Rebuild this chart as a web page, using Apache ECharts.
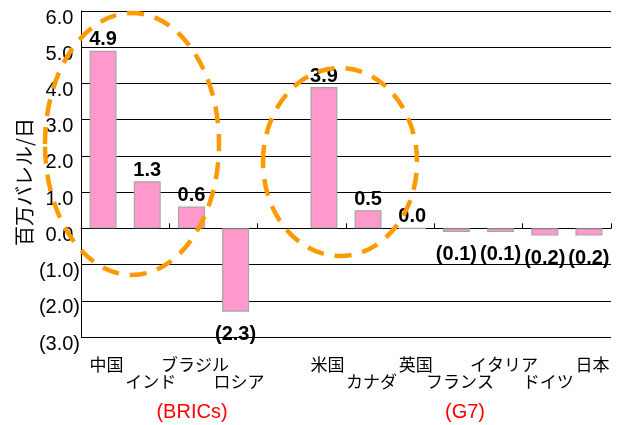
<!DOCTYPE html>
<html>
<head>
<meta charset="utf-8">
<script src="https://cdn.jsdelivr.net/npm/echarts@6/dist/echarts.min.js"></script>
<style>
  html, body { margin: 0; padding: 0; background: #fff; }
  #chart { width: 631px; height: 425px; }
</style>
</head>
<body>
<div id="chart"></div>
<script>
// Change in oil demand, million barrels per day (BRICs and G7)
const categories = ['中国', 'インド', 'ブラジル', 'ロシア', '', '米国', 'カナダ', '英国', 'フランス', 'イタリア', 'ドイツ', '日本'];
const values = [4.9, 1.3, 0.6, -2.3, null, 3.9, 0.5, 0.0, -0.1, -0.1, -0.2, -0.2];
// 1 = category name sits on the second (lower) row
const labelRow = [0, 1, 0, 1, 0, 0, 1, 0, 1, 0, 1, 0];
const yTicks = { min: -3, max: 6, step: 1 };
const groupLabels = ['(BRICs)', '(G7)'];

const LATIN = '"Liberation Sans", Arial, sans-serif';
const CJK = '"Noto Sans CJK JP", "Noto Sans", sans-serif';

function fmt(v) {
  const s = Math.abs(v).toFixed(1);
  return v < 0 ? '(' + s + ')' : s;
}

const chart = echarts.init(document.getElementById('chart'), null, { renderer: 'canvas' });

const barData = values.map(function (v) {
  if (v === null) return null;
  return {
    value: v,
    label: v < 0 ? { position: 'bottom', distance: 13 } : { position: 'top', distance: 1 }
  };
});

chart.setOption({
  animation: false,
  grid: { left: 81, right: 20, top: 11, bottom: 88 },
  xAxis: [
    {
      type: 'category',
      data: categories,
      axisLine: { onZero: true, lineStyle: { color: '#000', width: 1 } },
      axisTick: { show: true, inside: true, length: 5, lineStyle: { color: '#000' } },
      axisLabel: { show: false },
      splitLine: { show: false }
    },
    {
      type: 'category',
      data: categories,
      position: 'bottom',
      axisLine: { show: false, onZero: false },
      axisTick: { show: false },
      splitLine: { show: false },
      axisLabel: {
        interval: 0,
        margin: 19,
        color: '#000',
        fontFamily: CJK,
        fontSize: 17,
        lineHeight: 17,
        padding: [0, 0, 0, 7],
        formatter: function (name, idx) {
          return labelRow[idx] ? '\n' + name : name;
        }
      }
    }
  ],
  yAxis: {
    type: 'value',
    min: yTicks.min,
    max: yTicks.max,
    interval: yTicks.step,
    name: '百万バレル/日',
    nameLocation: 'middle',
    nameRotate: 90,
    nameGap: 47,
    nameMoveOverlap: false,
    nameTextStyle: { color: '#000', fontFamily: CJK, fontSize: 20, padding: [0, 16, 0, 0] },
    axisLine: { show: true, lineStyle: { color: '#000', width: 1 } },
    axisTick: { show: false },
    splitLine: { show: true, lineStyle: { color: '#000', width: 1 } },
    axisLabel: {
      margin: 1,
      color: '#000',
      fontFamily: LATIN,
      fontSize: 20,
      verticalAlign: 'middle',
      padding: [14, 0, 0, 0],
      formatter: function (v) {
        return v < 0 ? fmt(v) : fmt(v) + '{p|)}';
      },
      rich: { p: { color: 'rgba(0,0,0,0)', fontFamily: LATIN, fontSize: 20 } }
    }
  },
  series: [{
    type: 'bar',
    xAxisIndex: 0,
    data: barData,
    barWidth: '61%',
    itemStyle: { color: '#FF99CC', borderColor: '#A6A6A6', borderWidth: 1.2 },
    label: {
      show: true,
      color: '#000',
      fontFamily: LATIN,
      fontWeight: 'bold',
      fontSize: 20,
      formatter: function (p) { return fmt(p.value); }
    }
  }],
  graphic: [
    {
      type: 'ellipse', silent: true, z: 100,
      shape: { cx: 132, cy: 144, rx: 87, ry: 131 },
      style: { fill: null, stroke: '#FF9900', lineWidth: 4.5, lineDash: [17, 11] }
    },
    {
      type: 'ellipse', silent: true, z: 100,
      shape: { cx: 340, cy: 162, rx: 77, ry: 94 },
      style: { fill: null, stroke: '#FF9900', lineWidth: 4.5, lineDash: [17, 11] }
    },
    {
      type: 'text', silent: true, x: 192, y: 412,
      style: { text: groupLabels[0], fill: '#FF0000', font: '20px ' + LATIN, align: 'center', verticalAlign: 'middle' }
    },
    {
      type: 'text', silent: true, x: 465, y: 412,
      style: { text: groupLabels[1], fill: '#FF0000', font: '20px ' + LATIN, align: 'center', verticalAlign: 'middle' }
    }
  ]
});
</script>
</body>
</html>
